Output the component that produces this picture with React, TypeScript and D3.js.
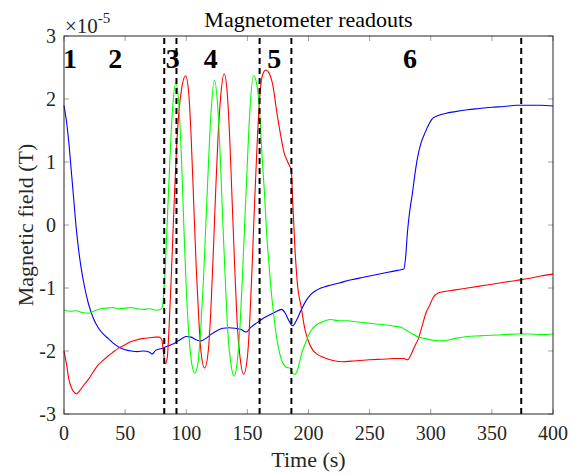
import React, { useEffect, useRef } from "react";
import * as d3 from "d3";

// readings in units of 1e-5 T
const blueTime = [0, 2, 4, 6, 8, 10, 12, 14, 17, 20, 24, 28, 32, 36, 40, 45, 50, 55, 60, 65, 70, 72, 75, 80, 85, 90, 95, 100, 104, 108, 112, 116, 120, 125, 130, 135, 140, 145, 149, 153, 158, 163, 168, 173, 178, 181, 184, 187, 190, 194, 198, 202, 207, 215, 225, 235, 245, 255, 265, 273, 278, 279.5, 281, 283, 285, 287, 289, 292, 295, 298, 301, 305, 312, 320, 330, 340, 350, 360, 370, 380, 390, 400];
const blueField = [1.9, 1.65, 1.3, 0.85, 0.4, -0.05, -0.4, -0.68, -1.0, -1.25, -1.48, -1.63, -1.73, -1.8, -1.87, -1.94, -1.98, -2.0, -2.01, -2.0, -2.02, -2.05, -1.99, -1.96, -1.92, -1.88, -1.82, -1.77, -1.78, -1.82, -1.84, -1.8, -1.74, -1.68, -1.64, -1.63, -1.64, -1.66, -1.7, -1.62, -1.55, -1.48, -1.43, -1.38, -1.34, -1.4, -1.52, -1.6, -1.52, -1.35, -1.2, -1.1, -1.03, -0.97, -0.92, -0.87, -0.83, -0.79, -0.75, -0.72, -0.7, -0.5, -0.1, 0.25, 0.5, 0.8, 1.05, 1.3, 1.45, 1.58, 1.68, 1.73, 1.77, 1.8, 1.83, 1.85, 1.87, 1.88, 1.9, 1.9, 1.9, 1.89];

const redTime = [0, 2, 4, 6, 8, 10, 12, 14, 17, 20, 24, 28, 32, 36, 40, 45, 50, 55, 60, 65, 70, 75, 78, 80, 81.5, 83, 84.5, 86, 88, 90, 92, 94, 96.5, 99.5, 102, 104, 106, 108, 110, 112, 115, 118, 120, 122, 124, 126, 128, 131, 133.5, 135.5, 137.5, 139.5, 141.5, 144, 147, 150, 152, 154, 156, 158, 160, 162, 165, 168, 171, 174, 177, 180, 183, 186, 187, 189, 191, 194, 197, 200, 203, 207, 212, 220, 228, 235, 242, 250, 260, 270, 278, 281, 284, 287, 290, 293, 296, 299, 302, 306, 310, 320, 330, 340, 350, 360, 370, 380, 390, 400];
const redField = [-2.0, -2.2, -2.45, -2.58, -2.65, -2.68, -2.65, -2.6, -2.52, -2.45, -2.33, -2.22, -2.15, -2.08, -2.02, -1.95, -1.9, -1.85, -1.82, -1.8, -1.79, -1.78, -1.78, -1.82, -2.05, -2.2, -2.1, -1.6, -0.7, 0.3, 1.2, 1.8, 2.2, 2.37, 2.1, 1.4, 0.4, -0.6, -1.4, -2.0, -2.27, -2.0, -1.4, -0.5, 0.5, 1.4, 2.0, 2.4, 2.1, 1.4, 0.4, -0.6, -1.5, -2.1, -2.37, -2.1, -1.5, -0.6, 0.4, 1.3, 2.0, 2.35, 2.46, 2.4, 2.2, 1.8, 1.45, 1.15, 1.0, 0.85, 0.4, -0.4, -0.95, -1.3, -1.65, -1.85, -1.97, -2.05, -2.1, -2.15, -2.17, -2.16, -2.15, -2.14, -2.13, -2.12, -2.12, -2.14, -2.05, -1.92, -1.8, -1.6, -1.4, -1.28, -1.15, -1.08, -1.06, -1.03, -1.0, -0.97, -0.94, -0.91, -0.88, -0.85, -0.81, -0.78];

const greenTime = [0, 5, 10, 15, 20, 25, 30, 35, 40, 45, 50, 55, 60, 65, 70, 75, 79, 80.5, 83, 85, 87, 89, 91.5, 94, 96, 98, 100, 102, 104.5, 107, 109.5, 112, 114, 116, 118, 120, 123, 126, 128, 130, 132, 134, 136.5, 139.3, 141.5, 144, 146, 148, 150, 152, 155, 158, 160, 162, 164, 166, 168, 170, 172, 174, 176, 178, 180, 182, 185, 187, 189, 191, 193, 195, 197, 200, 203, 207, 212, 218, 225, 232, 240, 250, 260, 268, 275, 280, 285, 290, 295, 302, 310, 320, 330, 340, 350, 360, 370, 380, 390, 400];
const greenField = [-1.35, -1.37, -1.36, -1.39, -1.4, -1.36, -1.33, -1.32, -1.31, -1.33, -1.32, -1.31, -1.33, -1.34, -1.33, -1.35, -1.34, -1.3, -0.6, 0.3, 1.2, 1.9, 2.25, 1.9, 1.1, 0.0, -1.0, -1.7, -2.2, -2.35, -2.2, -1.6, -0.9, 0.0, 0.9, 1.7, 2.3, 1.8, 1.0, 0.0, -0.9, -1.7, -2.2, -2.4, -2.2, -1.6, -0.8, 0.1, 1.0, 1.8, 2.37, 2.2, 1.8, 1.1, 0.5, -0.2, -0.7, -1.15, -1.5, -1.8, -2.0, -2.15, -2.22, -2.26, -2.27, -2.35, -2.37, -2.3, -2.15, -2.0, -1.9, -1.75, -1.65, -1.58, -1.53, -1.5, -1.52, -1.52, -1.54, -1.56, -1.58, -1.6, -1.62, -1.67, -1.73, -1.78, -1.8, -1.83, -1.84, -1.8, -1.77, -1.76, -1.75, -1.74, -1.73, -1.73, -1.74, -1.73];

const phaseBounds = [82, 92, 160, 186, 374];
const phaseLabels = ["1", "2", "3", "4", "5", "6"];
const phaseLabelTime = [5, 42, 89, 120, 172, 283];

const xTicks = [0, 50, 100, 150, 200, 250, 300, 350, 400];
const yTicks = [-3, -2, -1, 0, 1, 2, 3];

const App = () => {
  const ref = useRef<SVGSVGElement>(null);

  useEffect(() => {
    const width = 571;
    const height = 474;
    const margin = { left: 64, right: 18, top: 36, bottom: 60 };

    const svg = d3.select(ref.current);
    svg.selectAll("*").remove();
    svg.attr("width", width).attr("height", height);

    const x = d3.scaleLinear().domain([0, 400]).range([margin.left, width - margin.right]);
    const y = d3.scaleLinear().domain([-3, 3]).range([height - margin.bottom, margin.top]);

    const font = "'Liberation Serif', 'Times New Roman', serif";

    svg.append("rect").attr("width", width).attr("height", height).attr("fill", "white");

    // series
    const line = d3.line<[number, number]>()
      .x((d) => x(d[0]))
      .y((d) => y(d[1]))
      .curve(d3.curveMonotoneX);

    const series = [
      { t: blueTime, v: blueField, color: "#0000ff" },
      { t: redTime, v: redField, color: "#ff0000" },
      { t: greenTime, v: greenField, color: "#00ff00" },
    ];
    series.forEach((s) => {
      const pts = s.t.map((t, i) => [t, s.v[i]] as [number, number]);
      svg.append("path")
        .attr("d", line(pts))
        .attr("fill", "none")
        .attr("stroke", s.color)
        .attr("stroke-width", 1.1);
    });

    // phase boundaries
    svg.append("g")
      .selectAll("line")
      .data(phaseBounds)
      .enter()
      .append("line")
      .attr("x1", (d) => x(d))
      .attr("x2", (d) => x(d))
      .attr("y1", y(3) + 2)
      .attr("y2", y(-3))
      .attr("stroke", "black")
      .attr("stroke-width", 2)
      .attr("stroke-dasharray", "6,4");

    svg.append("g")
      .selectAll("text")
      .data(phaseLabels)
      .enter()
      .append("text")
      .attr("x", (d, i) => x(phaseLabelTime[i]))
      .attr("y", 68)
      .attr("text-anchor", "middle")
      .style("font-family", font)
      .style("font-weight", "bold")
      .style("font-size", "28px")
      .text((d) => d);

    // box + ticks
    const axisColor = "#262626";
    const tickColor = "#a0a0a0";
    const x0 = x(0), x1 = x(400), yb = y(-3), yt = y(3);

    const ticks = svg.append("g");
    xTicks.forEach((t) => {
      ticks.append("line").attr("x1", x(t)).attr("x2", x(t)).attr("y1", yb).attr("y2", yb - 5).attr("stroke", tickColor);
      ticks.append("line").attr("x1", x(t)).attr("x2", x(t)).attr("y1", yt).attr("y2", yt + 5).attr("stroke", tickColor);
    });
    yTicks.forEach((t) => {
      ticks.append("line").attr("x1", x0).attr("x2", x0 + 5).attr("y1", y(t)).attr("y2", y(t)).attr("stroke", tickColor);
      ticks.append("line").attr("x1", x1).attr("x2", x1 - 5).attr("y1", y(t)).attr("y2", y(t)).attr("stroke", tickColor);
    });

    svg.append("rect")
      .attr("x", x0)
      .attr("y", yt)
      .attr("width", x1 - x0)
      .attr("height", yb - yt)
      .attr("fill", "none")
      .attr("stroke", axisColor)
      .attr("stroke-width", 1);

    // tick labels
    svg.append("g")
      .selectAll("text")
      .data(xTicks)
      .enter()
      .append("text")
      .attr("x", (d) => x(d))
      .attr("y", 440)
      .attr("text-anchor", "middle")
      .style("font-family", font)
      .style("font-size", "20px")
      .style("fill", axisColor)
      .text((d) => d);

    svg.append("g")
      .selectAll("text")
      .data(yTicks)
      .enter()
      .append("text")
      .attr("x", x0 - 8)
      .attr("y", (d) => y(d))
      .attr("dy", "0.35em")
      .attr("text-anchor", "end")
      .style("font-family", font)
      .style("font-size", "20px")
      .style("fill", axisColor)
      .text((d) => d);

    // exponent
    const exp = svg.append("text")
      .attr("x", x0 + 1)
      .attr("y", 33)
      .style("font-family", font)
      .style("font-size", "21px")
      .style("fill", axisColor);
    exp.append("tspan").text("\u00d710");
    exp.append("tspan").attr("dy", -10).style("font-size", "15px").text("-5");

    // title and axis labels
    svg.append("text")
      .attr("x", (x0 + x1) / 2)
      .attr("y", 27)
      .attr("text-anchor", "middle")
      .style("font-family", font)
      .style("font-size", "22px")
      .text("Magnetometer readouts");

    svg.append("text")
      .attr("x", (x0 + x1) / 2)
      .attr("y", 467)
      .attr("text-anchor", "middle")
      .style("font-family", font)
      .style("font-size", "22px")
      .style("fill", axisColor)
      .text("Time (s)");

    svg.append("text")
      .attr("transform", `translate(33, ${(yt + yb) / 2}) rotate(-90)`)
      .attr("text-anchor", "middle")
      .style("font-family", font)
      .style("font-size", "22px")
      .style("fill", axisColor)
      .text("Magnetic field (T)");
  }, []);

  return <svg ref={ref} style={{ position: "absolute", left: 0, top: 0 }}></svg>;
};

export default App;
